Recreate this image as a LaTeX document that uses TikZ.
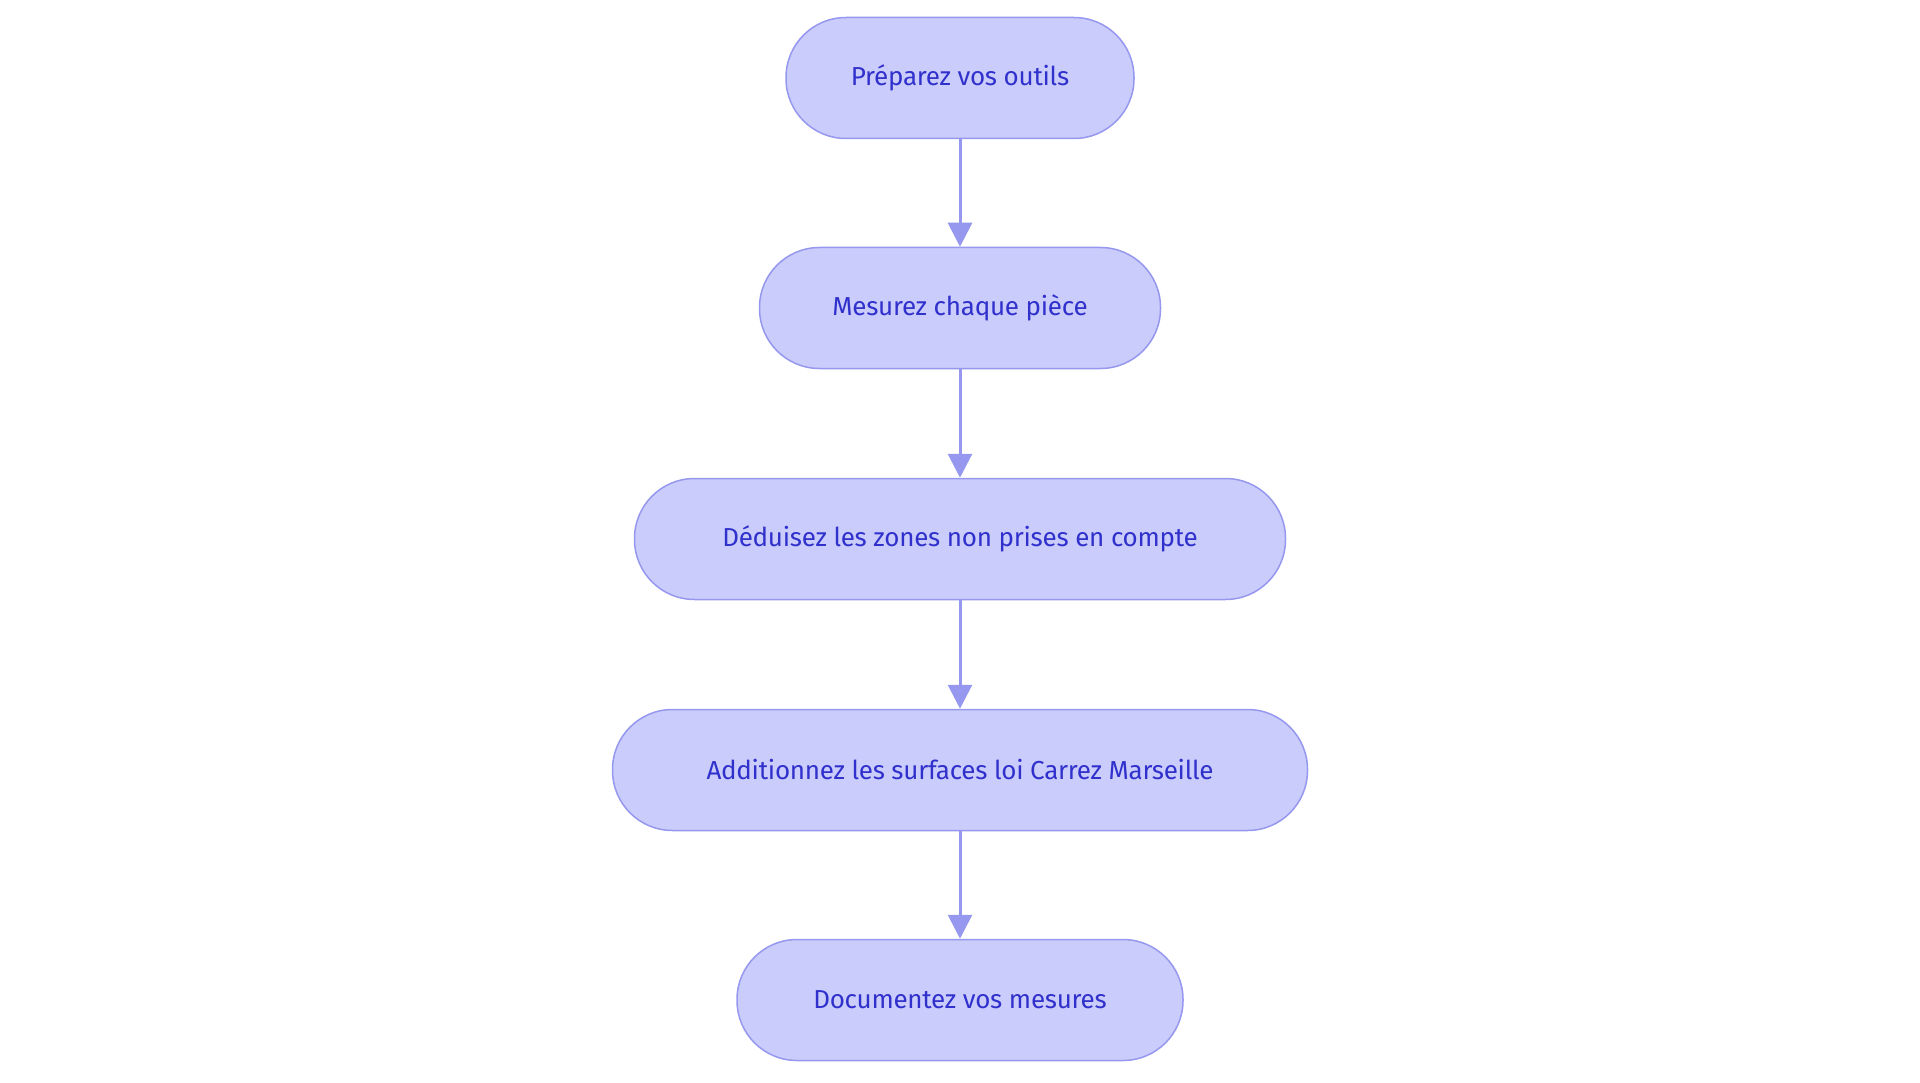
\documentclass[tikz,border=0pt]{standalone}
\usepackage{fontspec}
\setmainfont{Fira Sans}
\usetikzlibrary{arrows.meta}
\definecolor{nfill}{HTML}{CACCFB}
\definecolor{nline}{HTML}{9598EE}
\definecolor{ntext}{HTML}{3030CC}
\begin{document}
\begin{tikzpicture}[x=1pt,y=-1pt,
  box/.style={draw=nline,line width=1.5pt,fill=nfill,rounded corners=60pt,minimum height=121pt,text=ntext,font=\fontsize{26}{30}\selectfont\addfontfeatures{LetterSpace=-1}},
  arr/.style={draw=nline,line width=3pt,-{Triangle[length=24pt,width=24pt]}}]
\useasboundingbox (0,0) rectangle (1920,1083);
\node[box,minimum width=348pt] (a) at (960,78) {Préparez vos outils};
\node[box,minimum width=401pt] (b) at (960,308) {Mesurez chaque pièce};
\node[box,minimum width=651pt] (c) at (960,539) {Déduisez les zones non prises en compte};
\node[box,minimum width=695pt] (d) at (960,770) {Additionnez les surfaces loi Carrez Marseille};
\node[box,minimum width=446pt] (e) at (960,1000) {Documentez vos mesures};
\draw[arr] (a) -- (b);
\draw[arr] (b) -- (c);
\draw[arr] (c) -- (d);
\draw[arr] (d) -- (e);
\end{tikzpicture}
\end{document}
